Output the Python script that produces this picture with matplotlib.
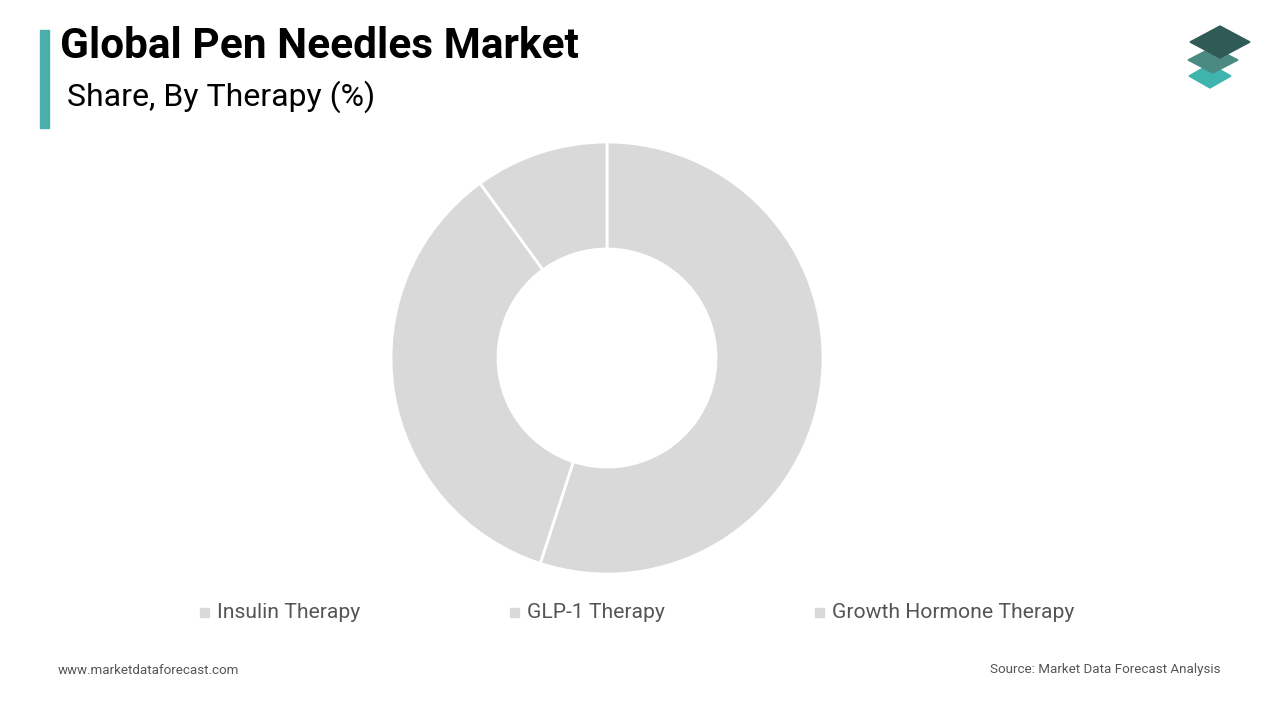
import matplotlib
matplotlib.use("Agg")
import matplotlib.pyplot as plt
from matplotlib.patches import Polygon, Rectangle

categories = ["Insulin Therapy", "GLP-1 Therapy", "Growth Hormone Therapy"]
values = [55, 35, 10]
colors = ["#d9d9d9", "#d9d9d9", "#d9d9d9"]

plt.rcParams['font.family'] = ['Roboto', 'DejaVu Sans']
fig = plt.figure(figsize=(12.8, 7.2), dpi=100)
W, H = 1280, 720

ax = fig.add_axes([(607-216)/W, 1-(358+216)/H, 432/W, 432/H])
ax.pie(values, colors=colors, startangle=90, counterclock=False, radius=1,
       wedgeprops=dict(width=107/216, edgecolor="white", linewidth=2))
ax.set_xlim(-1, 1)
ax.set_ylim(-1, 1)
ax.set_aspect("equal")
ax.axis("off")

# title bar
fig.patches.append(Rectangle((40/W, 1-128/H), 9/W, 98/H, transform=fig.transFigure, color="#4aaeaa"))
fig.text(60/W, 1-46/H, "Global Pen Needles Market", fontsize=30.5, fontweight="bold", va="center")
fig.text(67/W, 1-97/H, "Share, By Therapy (%)", fontsize=23, va="center")

# legend
lx = [205, 515, 820]
for x, c, lab in zip(lx, colors, categories):
    fig.patches.append(Rectangle(((x-5)/W, 1-617/H), 9/W, 9/H, transform=fig.transFigure, color=c))
    fig.text((x+12)/W, 1-613/H, lab, fontsize=15.2, color="#555555", va="center")

fig.text(58/W, 1-670/H, "www.marketdataforecast.com", fontsize=9.6, color="#555555", va="center")
fig.text(1220/W, 1-670/H, "Source: Market Data Forecast Analysis", fontsize=9.6, color="#555555", va="center", ha="right")

# logo
def diamond(cx, cy, w, h, col):
    pts = [((cx-w)/W, 1-cy/H), (cx/W, 1-(cy-h)/H), ((cx+w)/W, 1-cy/H), (cx/W, 1-(cy+h)/H)]
    fig.patches.append(Polygon(pts, closed=True, transform=fig.transFigure, color=col))
diamond(1210, 76, 21, 12, "#3fb3ad")
diamond(1213, 60, 25, 13, "#4b8a82")
diamond(1220, 42, 30, 16, "#2f5a55")

fig.savefig("out.png", dpi=100, facecolor="white")
